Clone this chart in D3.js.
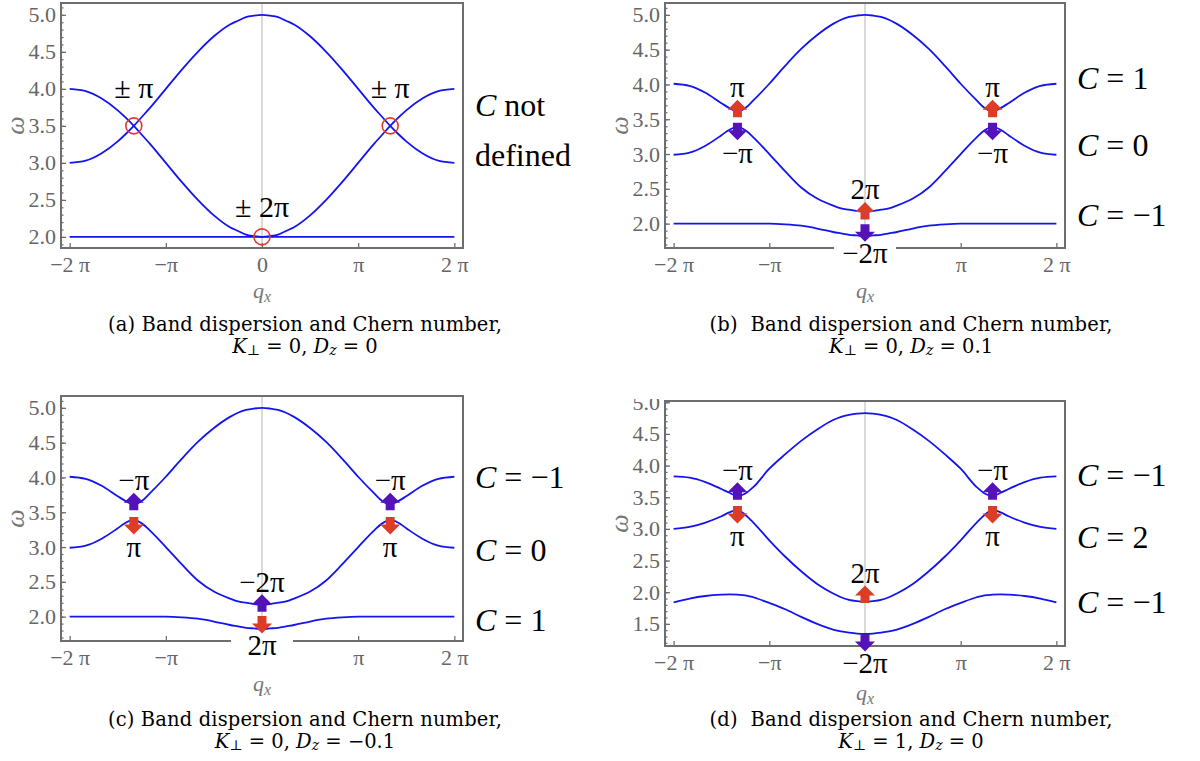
<!DOCTYPE html>
<html lang="en">
<head>
<meta charset="utf-8">
<title>band_dispersion</title>
<script src="https://d3js.org/d3.v7.min.js"></script>
<style>
  body {margin:0; background:white;}
  svg {display:block;}
  .tick text {font-family:"Liberation Serif", serif; font-size:22px; fill:#666;}
  .tick line {stroke:#666; stroke-width:1.2;}
  text {font-family:"Liberation Serif", serif;}
  .cap {font-family:"DejaVu Serif", serif;}
</style>
</head>
<body>
<script>
// q_x sample points, in units of pi
const qPi = [-2, -1.833, -1.667, -1.5, -1.417, -1.333, -1.25, -1.167, -1, -0.833, -0.667, -0.5, -0.333, -0.25, -0.167, -0.083, 0,
             0.083, 0.167, 0.25, 0.333, 0.5, 0.667, 0.833, 1, 1.167, 1.25, 1.333, 1.417, 1.5, 1.667, 1.833, 2];

// (a) K=0, Dz=0 : bands cross
const aFlat  = [2.00, 2.00, 2.00, 2.00, 2.00, 2.00, 2.00, 2.00, 2.00, 2.00, 2.00, 2.00, 2.00, 2.00, 2.00, 2.00, 2.00,
                2.00, 2.00, 2.00, 2.00, 2.00, 2.00, 2.00, 2.00, 2.00, 2.00, 2.00, 2.00, 2.00, 2.00, 2.00, 2.00];
const aDown  = [4.00, 3.97, 3.87, 3.71, 3.61, 3.50, 3.38, 3.26, 3.00, 2.74, 2.50, 2.29, 2.13, 2.08, 2.03, 2.01, 2.00,
                2.01, 2.03, 2.08, 2.13, 2.29, 2.50, 2.74, 3.00, 3.26, 3.38, 3.50, 3.61, 3.71, 3.87, 3.97, 4.00];
const aUp    = [3.00, 3.03, 3.13, 3.29, 3.39, 3.50, 3.62, 3.74, 4.00, 4.26, 4.50, 4.71, 4.87, 4.92, 4.97, 4.99, 5.00,
                4.99, 4.97, 4.92, 4.87, 4.71, 4.50, 4.26, 4.00, 3.74, 3.62, 3.50, 3.39, 3.29, 3.13, 3.03, 3.00];

// (b),(c) K=0, Dz=+-0.1 : same spectrum, gaps open
const bcTop  = [4.01, 3.98, 3.88, 3.73, 3.66, 3.61, 3.66, 3.77, 4.01, 4.27, 4.51, 4.71, 4.87, 4.93, 4.97, 4.99, 5.00,
                4.99, 4.97, 4.93, 4.87, 4.71, 4.51, 4.27, 4.01, 3.77, 3.66, 3.61, 3.66, 3.73, 3.88, 3.98, 4.01];
const bcMid  = [2.99, 3.02, 3.12, 3.27, 3.35, 3.39, 3.34, 3.24, 3.00, 2.75, 2.52, 2.36, 2.26, 2.22, 2.20, 2.18, 2.17,
                2.18, 2.20, 2.22, 2.26, 2.36, 2.52, 2.75, 3.00, 3.24, 3.34, 3.39, 3.35, 3.27, 3.12, 3.02, 2.99];
const bcLow  = [2.00, 2.00, 2.00, 2.00, 2.00, 2.00, 2.00, 2.00, 2.00, 1.99, 1.97, 1.93, 1.88, 1.86, 1.84, 1.83, 1.82,
                1.83, 1.84, 1.86, 1.88, 1.93, 1.97, 1.99, 2.00, 2.00, 2.00, 2.00, 2.00, 2.00, 2.00, 2.00, 2.00];

// (d) K=1, Dz=0
const dTop   = [3.83, 3.81, 3.74, 3.63, 3.57, 3.52, 3.56, 3.66, 3.95, 4.18, 4.39, 4.57, 4.72, 4.77, 4.80, 4.82, 4.83,
                4.82, 4.80, 4.77, 4.72, 4.57, 4.39, 4.18, 3.95, 3.66, 3.56, 3.52, 3.57, 3.63, 3.74, 3.81, 3.83];
const dMid   = [3.00, 3.03, 3.10, 3.20, 3.26, 3.30, 3.22, 3.10, 2.82, 2.56, 2.33, 2.13, 1.98, 1.92, 1.88, 1.86, 1.85,
                1.86, 1.88, 1.92, 1.98, 2.13, 2.33, 2.56, 2.82, 3.10, 3.22, 3.30, 3.26, 3.20, 3.10, 3.03, 3.00];
const dLow   = [1.84, 1.90, 1.94, 1.96, 1.965, 1.96, 1.95, 1.92, 1.83, 1.73, 1.61, 1.50, 1.41, 1.38, 1.36, 1.345, 1.34,
                1.345, 1.36, 1.38, 1.41, 1.50, 1.61, 1.73, 1.83, 1.92, 1.95, 1.96, 1.965, 1.96, 1.94, 1.90, 1.84];

// degeneracy points / Berry phase arrows  (q in pi, w = omega at arrow base)
const aPoints = [{q:-1.333, w:3.5, phase:'± π'}, {q:1.333, w:3.5, phase:'± π'}, {q:0, w:2.0, phase:'± 2π'}];
const bArrows = [{q:-1.333, w:3.53, dir:'up', phase:'π'}, {q:-1.333, w:3.45, dir:'down', phase:'−π'},
                 {q:1.333, w:3.53, dir:'up', phase:'π'}, {q:1.333, w:3.45, dir:'down', phase:'−π'},
                 {q:0, w:2.06, dir:'up', phase:'2π'}, {q:0, w:1.99, dir:'down', phase:'−2π'}];
const cArrows = [{q:-1.333, w:3.53, dir:'up', phase:'−π'}, {q:-1.333, w:3.43, dir:'down', phase:'π'},
                 {q:1.333, w:3.53, dir:'up', phase:'−π'}, {q:1.333, w:3.43, dir:'down', phase:'π'},
                 {q:0, w:2.07, dir:'up', phase:'−2π'}, {q:0, w:2.01, dir:'down', phase:'2π'}];
const dArrows = [{q:-1.333, w:3.46, dir:'up', phase:'−π'}, {q:-1.333, w:3.36, dir:'down', phase:'π'},
                 {q:1.333, w:3.46, dir:'up', phase:'−π'}, {q:1.333, w:3.36, dir:'down', phase:'π'},
                 {q:0, w:1.83, dir:'up', phase:'2π'}, {q:0, w:1.34, dir:'down', phase:'−2π'}];

// Chern numbers of the bands (top to bottom) and where the labels sit (omega)
const bChern = [1, 0, -1],  bChernW = [4.09, 3.13, 2.12];
const cChern = [-1, 0, 1],  cChernW = [4.01, 2.96, 1.95];
const dChern = [-1, 2, -1], dChernW = [3.85, 2.87, 1.85];

const xTickVals = [-2, -1, 0, 1, 2];
const xTickLabels = ['−2 π', '−π', '0', 'π', '2 π'];
const yTicksABC = [2, 2.5, 3, 3.5, 4, 4.5, 5];
const yTicksD = [1.5, 2, 2.5, 3, 3.5, 4, 4.5, 5];

const RED = '#dd3d27', PURPLE = '#5512b9', BLUE = '#1414f0', FRAME = '#6e6e6e';

const panels = [
  {id:'a', left:61,  right:463,  top:3,   bottom:248, yDomain:[1.85, 5.16], yTicks:yTicksABC, bands:[aFlat, aDown, aUp],
   qxDy:50, tag:'(a) ', params:[['K',1],['⊥',2],[' = 0, ',0],['D',1],['z',3],[' = 0',0]], capX:305, capY:324, capW:394},
  {id:'b', left:665, right:1065, top:3,   bottom:248, yDomain:[1.65, 5.17], yTicks:yTicksABC, bands:[bcLow, bcMid, bcTop],
   arrows:bArrows, chern:bChern, chernW:bChernW,
   qxDy:50, tag:'(b)  ', params:[['K',1],['⊥',2],[' = 0, ',0],['D',1],['z',3],[' = 0.1',0]], capX:911, capY:324, capW:403},
  {id:'c', left:61,  right:463,  top:396, bottom:641, yDomain:[1.65, 5.17], yTicks:yTicksABC, bands:[bcLow, bcMid, bcTop],
   arrows:cArrows, chern:cChern, chernW:cChernW,
   qxDy:50, tag:'(c) ', params:[['K',1],['⊥',2],[' = 0, ',0],['D',1],['z',3],[' = −0.1',0]], capX:305, capY:719, capW:394},
  {id:'d', left:665, right:1065, top:401, bottom:646, yDomain:[1.15, 5.02], yTicks:yTicksD, bands:[dLow, dMid, dTop],
   arrows:dArrows, chern:dChern, chernW:dChernW,
   qxDy:54, tag:'(d)  ', params:[['K',1],['⊥',2],[' = 1, ',0],['D',1],['z',3],[' = 0',0]], capX:911, capY:719, capW:403}
];

const svg = d3.select('body').append('svg').attr('width', 1200).attr('height', 761);
svg.append('rect').attr('width', 1200).attr('height', 761).attr('fill', '#fff');
const defs = svg.append('defs');

function arrowPath(cx, yb, dir) {
  const s = dir === 'up' ? -1 : 1;
  const hw = 10, sw = 4.5, sh = 7.5, th = 17.5;
  return `M${cx-sw},${yb} L${cx-sw},${yb+s*sh} L${cx-hw},${yb+s*sh} L${cx},${yb+s*th} ` +
         `L${cx+hw},${yb+s*sh} L${cx+sw},${yb+s*sh} L${cx+sw},${yb} Z`;
}

// text made of pieces: style 0 roman, 1 italic, 2 subscript roman, 3 subscript italic
function rich(parent, parts, size) {
  const t = parent.append('text').attr('font-size', size).style('white-space', 'pre');
  let shifted = false;
  parts.forEach(([s, k]) => {
    const sp = t.append('tspan').text(s);
    if (k === 1 || k === 3) sp.attr('font-style', 'italic');
    if (k >= 2) { sp.attr('font-size', size * 0.72); if (!shifted) sp.attr('dy', size * 0.18); shifted = true; }
    else if (shifted) { sp.attr('dy', -size * 0.18); shifted = false; }
  });
  return t;
}

function chernText(n) { return n < 0 ? '−' + Math.abs(n) : String(n); }

panels.forEach(p => {
  const x = d3.scaleLinear().domain([-2.09, 2.09]).range([p.left, p.right]);
  const y = d3.scaleLinear().domain(p.yDomain).range([p.bottom, p.top]);
  const g = svg.append('g');

  defs.append('clipPath').attr('id', 'plot-' + p.id).append('rect')
    .attr('x', p.left).attr('y', p.top).attr('width', p.right - p.left).attr('height', p.bottom - p.top);
  defs.append('clipPath').attr('id', 'ylab-' + p.id).append('rect')
    .attr('x', p.left - 60).attr('y', p.top - 2).attr('width', 70).attr('height', p.bottom - p.top + 30);

  // q = 0 grid line
  g.append('line').attr('x1', x(0)).attr('x2', x(0)).attr('y1', p.top).attr('y2', p.bottom)
    .attr('stroke', '#b5b5b5').attr('stroke-width', 1);

  const line = d3.line().x((d, i) => x(qPi[i])).y(d => y(d)).curve(d3.curveMonotoneX);
  g.append('g').attr('clip-path', `url(#plot-${p.id})`)
    .selectAll('path').data(p.bands).join('path')
    .attr('d', line).attr('fill', 'none').attr('stroke', BLUE).attr('stroke-width', 1.8);

  // axes
  const yMinor = d3.range(Math.ceil(p.yDomain[0] * 10), Math.floor(p.yDomain[1] * 10) + 1).map(v => v / 10);
  g.append('g').attr('transform', `translate(${p.left},0)`)
    .call(d3.axisLeft(y).tickValues(yMinor).tickFormat('').tickSizeInner(-2.5).tickSizeOuter(0))
    .call(s => s.select('.domain').remove());
  g.append('g').attr('clip-path', `url(#ylab-${p.id})`)
    .append('g').attr('transform', `translate(${p.left},0)`)
    .call(d3.axisLeft(y).tickValues(p.yTicks).tickFormat(d3.format('.1f')).tickSizeInner(-5).tickSizeOuter(0).tickPadding(5))
    .call(s => s.select('.domain').remove());
  // the centre label of b, c, d is hidden under the Berry phase label
  g.append('g').attr('transform', `translate(0,${p.bottom})`)
    .call(d3.axisBottom(x).tickValues(xTickVals)
      .tickFormat((d, i) => (p.id !== 'a' && d === 0) ? '' : xTickLabels[i])
      .tickSizeInner(-5).tickSizeOuter(0).tickPadding(8))
    .call(s => s.select('.domain').remove());

  g.append('rect').attr('x', p.left).attr('y', p.top).attr('width', p.right - p.left).attr('height', p.bottom - p.top)
    .attr('fill', 'none').attr('stroke', FRAME).attr('stroke-width', 2);

  // axis titles
  g.append('text').attr('transform', `translate(${p.left - 46},${(p.top + p.bottom) / 2}) rotate(-90)`)
    .attr('text-anchor', 'middle').attr('dominant-baseline', 'central')
    .attr('font-size', 26).attr('font-style', 'italic').attr('fill', '#777').text('ω');
  rich(g, [['q', 1], ['x', 3]], 22).attr('x', x(0)).attr('y', p.bottom + p.qxDy).attr('text-anchor', 'middle').attr('fill', '#777');

  // panel (a): crossings marked by circles
  if (p.id === 'a') {
    g.selectAll('circle.deg').data(aPoints).join('circle').attr('class', 'deg')
      .attr('cx', d => x(d.q)).attr('cy', d => y(d.w)).attr('r', 8)
      .attr('fill', 'none').attr('stroke', '#e03a2a').attr('stroke-width', 1.6);
    g.selectAll('text.ph').data(aPoints).join('text').attr('class', 'ph')
      .attr('x', d => x(d.q)).attr('y', d => y(d.w) - (d.q === 0 ? 30 : 38))
      .attr('text-anchor', 'middle').attr('dominant-baseline', 'central').attr('font-size', 30)
      .style('white-space', 'pre').text(d => d.phase);
    [['C', ' not'], ['', 'defined']].forEach((parts, i) => {
      rich(g, [[parts[0], 1], [parts[1], 0]], 32).attr('x', p.right + 12).attr('y', y([3.78, 3.11][i]))
        .attr('dominant-baseline', 'central');
    });
  } else {
    // Berry phase arrows
    p.arrows.forEach(a => {
      const cx = x(a.q), yb = y(a.w);
      const col = a.phase.startsWith('−') ? PURPLE : RED;
      const s = a.dir === 'up' ? -1 : 1;
      const below = a.dir === 'down' && a.q === 0;
      const ly = yb + s * 17 + s * (below ? 12 : 13);
      if (below) {
        g.append('rect').attr('x', cx - 31).attr('y', ly - 15).attr('width', 62).attr('height', 30).attr('fill', '#fff');
      }
      g.append('path').attr('d', arrowPath(cx, yb, a.dir)).attr('fill', col);
      g.append('text').attr('x', cx).attr('y', ly).attr('text-anchor', 'middle').attr('dominant-baseline', 'central')
        .attr('font-size', 29).text(a.phase);
    });
    p.chern.forEach((n, i) => {
      rich(g, [['C', 1], [' = ' + chernText(n), 0]], 32).attr('x', p.right + 12).attr('y', y(p.chernW[i]))
        .attr('dominant-baseline', 'central');
    });
  }

  // caption
  g.append('text').attr('class', 'cap').attr('x', p.capX).attr('y', p.capY).attr('text-anchor', 'middle')
    .attr('dominant-baseline', 'central').attr('font-size', 19.5).style('white-space', 'pre')
    .attr('textLength', p.capW).attr('lengthAdjust', 'spacing')
    .text(p.tag + 'Band dispersion and Chern number,');
  rich(g, p.params, 19.5).attr('class', 'cap').attr('x', p.capX).attr('y', p.capY + 22)
    .attr('text-anchor', 'middle').attr('dominant-baseline', 'central');
});
</script>
</body>
</html>
